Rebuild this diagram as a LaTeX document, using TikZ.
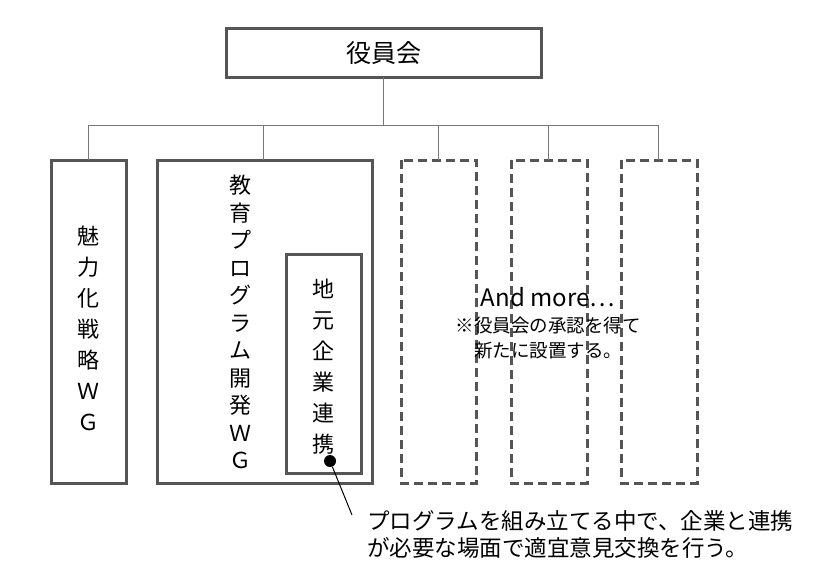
\documentclass[tikz,border=0pt]{standalone}
\usepackage{fontspec}
\setmainfont{Noto Sans CJK JP}
\definecolor{boxgray}{RGB}{85,85,85}
\definecolor{linegray}{RGB}{120,120,120}
\tikzset{
  wgbox/.style={draw=boxgray, line width=3pt},
  dashbox/.style={draw=boxgray, line width=3pt, dash pattern=on 9pt off 5pt},
  branch/.style={draw=linegray, line width=1pt},
  vtxt/.style={align=center, inner sep=0pt, font=\fontsize{22}{31}\selectfont}
}
\begin{document}
\begin{tikzpicture}[x=1pt,y=-1pt]
\useasboundingbox (0,0) rectangle (837,586);

%boxes
\draw [wgbox] (226,29) rectangle (541,77);
\node (top) at (383.5,53) [inner sep=0pt, font=\fontsize{25}{28}\selectfont] {役員会};
\draw [wgbox] (51,160) rectangle (126,483);
\draw [wgbox] (157,160) rectangle (372,483);
\draw [wgbox] (286,254) rectangle (361,473);
\draw [dashbox] (401,160) rectangle (476,483);
\draw [dashbox] (511,160) rectangle (587,483);
\draw [dashbox] (621,160) rectangle (697,483);

%tree lines
\coordinate (hub) at (383.5,125);
\draw [branch] (383.5,77) -- (hub);
\draw [branch] (88,125) -- (658,125);
\foreach \x in {88,263,438,548,658}
  \draw [branch] (\x,125) -- (\x,160);

% Text Node
\node (wg1) at (88,328) [vtxt] {魅\\力\\化\\戦\\略\\Ｗ\\Ｇ};
% Text Node
\node (wg2) at (240,322) [vtxt, font=\fontsize{22}{27.5}\selectfont] {教\\育\\プ\\ロ\\グ\\ラ\\ム\\開\\発\\Ｗ\\Ｇ};
% Text Node
\node (local) at (323,367) [vtxt] {地\\元\\企\\業\\連\\携};
% Text Node
\node (more) at (548,297) [inner sep=0pt, font=\fontsize{24}{28}\selectfont] {And more⋯};
\node (note) at (548,338) [align=center, inner sep=0pt, font=\fontsize{18.5}{25}\selectfont] {※役員会の承認を得て\\新たに設置する。};

%callout
\node (dot) at (330,461) [circle, fill=black, inner sep=0pt, minimum size=12pt] {};
\node (call) at (367,534) [anchor=west, align=left, inner sep=0pt, font=\fontsize{22.5}{27}\selectfont] {プログラムを組み立てる中で、企業と連携\\が必要な場面で適宜意見交換を行う。};
\coordinate (tail) at (352,515);
\draw [line width=1pt] (dot) -- (tail);
\end{tikzpicture}
\end{document}
